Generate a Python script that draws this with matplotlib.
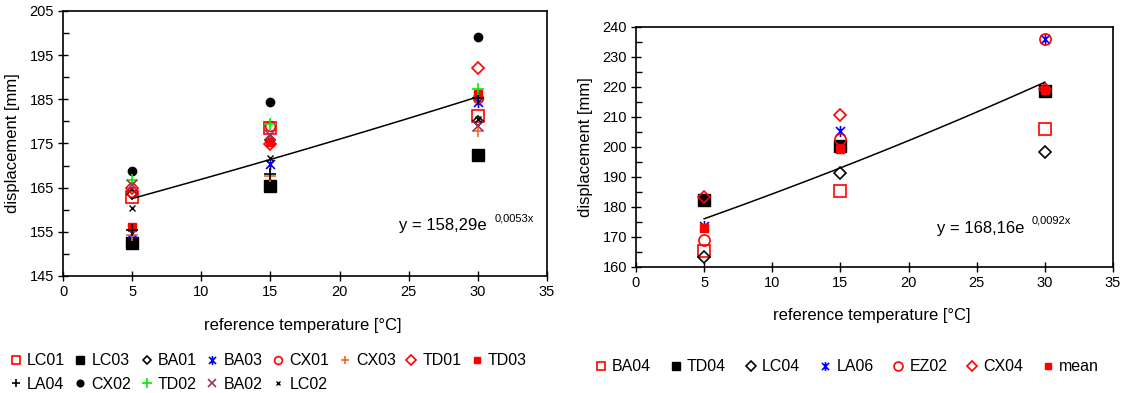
import numpy as np
import matplotlib
matplotlib.use('Agg')
from matplotlib import pyplot as plt
from matplotlib.path import Path
from matplotlib.ticker import MultipleLocator

plt.rcParams['font.family'] = ['Liberation Sans', 'DejaVu Sans']

# reference temperatures [°C]
temps = [5, 15, 30]

# left chart series, displacement [mm]
LC01 = [162.8, 178.5, 181.3]
LC03 = [152.4, 165.4, 172.4]
BA01 = [163.5, 175.9, 180.1]
BA03 = [154.7, 170.3, 184.3]
CX01 = [164.1, 178.9, 185.4]
CX03 = [154.2, 167.6, 177.9]
TD01 = [165.0, 174.9, 192.1]
TD03 = [156.0, 175.4, 186.2]
LA04 = [155.5, 168.2, 185.2]
CX02 = [168.7, 184.4, 199.1]
TD02 = [166.7, 179.4, 187.4]
BA02 = [165.5, 177.0, 179.0]
LC02 = [160.5, 171.8, 180.5]

# right chart series
BA04 = [165.5, 185.2, 206.0]
TD04 = [182.4, 200.2, 218.6]
LC04 = [163.3, 191.5, 198.3]
LA06 = [173.7, 205.2, 236.1]
EZ02 = [169.1, 202.8, 236.0]
CX04 = [183.5, 210.7, 219.3]
mean = [173.1, 199.3, 219.0]

# exponential trend lines y = a*e^(b*x), from the equations on the chart
trend_left = (158.29, 0.0053)
trend_right = (168.16, 0.0092)

# excel style asterisk: vertical bar plus an X
star = Path([(0, -1), (0, 1), (-0.8, -0.8), (0.8, 0.8), (-0.8, 0.8), (0.8, -0.8)],
            [Path.MOVETO, Path.LINETO, Path.MOVETO, Path.LINETO, Path.MOVETO, Path.LINETO])

RED = '#ff0000'
ORANGE = '#f26b1d'
PURPLE = '#993366'
GREEN = '#00ee00'

open_sq = dict(marker='s', ms=8, mfc='none', mec=RED, mew=1.2)
styles_left = [
    ('LC01', LC01, open_sq),
    ('LC03', LC03, dict(marker='s', ms=8, color='black')),
    ('BA01', BA01, dict(marker='D', ms=5.5, mfc='none', mec='black', mew=1.2)),
    ('BA03', BA03, dict(marker=star, ms=8, color='blue', mew=1.2)),
    ('CX01', CX01, dict(marker='o', ms=7, mfc='none', mec=RED, mew=1.2)),
    ('CX03', CX03, dict(marker='+', ms=8, color=ORANGE, mew=1.2)),
    ('TD01', TD01, dict(marker='D', ms=6.5, mfc='none', mec=RED, mew=1.2)),
    ('TD03', TD03, dict(marker='s', ms=6, color=RED)),
    ('LA04', LA04, dict(marker='+', ms=8, color='black', mew=1.2)),
    ('CX02', CX02, dict(marker='o', ms=6, color='black')),
    ('TD02', TD02, dict(marker='+', ms=9, color=GREEN, mew=1.2)),
    ('BA02', BA02, dict(marker='x', ms=7, color=PURPLE, mew=1.2)),
    ('LC02', LC02, dict(marker='x', ms=4, color='black', mew=1.0)),
]

styles_right = [
    ('BA04', BA04, open_sq),
    ('TD04', TD04, dict(marker='s', ms=8, color='black')),
    ('LC04', LC04, dict(marker='D', ms=6, mfc='none', mec='black', mew=1.2)),
    ('LA06', LA06, dict(marker=star, ms=8, color='blue', mew=1.2)),
    ('EZ02', EZ02, dict(marker='o', ms=8, mfc='none', mec=RED, mew=1.2)),
    ('CX04', CX04, dict(marker='D', ms=6.5, mfc='none', mec=RED, mew=1.2)),
    ('mean', mean, dict(marker='s', ms=6, color=RED)),
]

fig = plt.figure(figsize=(11.33, 3.93), dpi=100)
ax1 = fig.add_axes([63 / 1133, 1 - 276 / 393, 484 / 1133, 265 / 393])
ax2 = fig.add_axes([636 / 1133, 1 - 267 / 393, 477 / 1133, 240 / 393])


def draw(ax, styles, trend, ylim, eq_pos, eq_text, eq_sup):
    handles = []
    for name, vals, st in styles:
        h, = ax.plot(temps, vals, linestyle='none', label=name, **st)
        handles.append(h)
    a, b = trend
    xs = np.linspace(5, 30, 60)
    ax.plot(xs, a * np.exp(b * xs), color='black', lw=1.1)
    ax.set_xlim(0, 35)
    ax.set_ylim(*ylim)
    ax.xaxis.set_major_locator(MultipleLocator(5))
    ax.set_yticks(np.arange(ylim[0], ylim[1] + 1, 10))
    ax.set_yticks(np.arange(ylim[0] + 5, ylim[1], 10), minor=True)
    ax.tick_params(axis='both', which='major', direction='inout', length=7,
                   width=1, labelsize=10.5, pad=3)
    ax.tick_params(axis='y', which='minor', direction='in', length=4, width=1)
    for sp in ax.spines.values():
        sp.set_linewidth(1.2)
    ax.set_ylabel('displacement [mm]', fontsize=12)
    ax.set_xlabel('reference temperature [°C]', fontsize=12)
    ax.text(eq_pos[0], eq_pos[1], eq_text, transform=ax.transAxes, fontsize=12,
            ha='left', va='center')
    ax.text(eq_pos[0] + 0.198, eq_pos[1] + 0.03, eq_sup, transform=ax.transAxes,
            fontsize=8, ha='left', va='center')
    return handles


h1 = draw(ax1, styles_left, trend_left, (145, 205),
          ((399 - 63) / 484, (276 - 226) / 265), 'y = 158,29e', '0,0053x')
h2 = draw(ax2, styles_right, trend_right, (160, 240),
          ((937 - 636) / 477, (267 - 228) / 240), 'y = 168,16e', '0,0092x')

ax1.yaxis.set_label_coords(-0.088, 0.5)
ax1.xaxis.set_label_coords(0.495, -0.16)
ax2.yaxis.set_label_coords(-0.09, 0.5)
ax2.xaxis.set_label_coords(0.495, -0.17)

# legend fills column by column, so interleave to get the two rows right
order = [0, 8, 1, 9, 2, 10, 3, 11, 4, 12, 5, 6, 7]
fig.legend(handles=[h1[i] for i in order], loc='upper left',
           bbox_to_anchor=(0.006, 1 - 350 / 393),
           ncol=8, frameon=False, fontsize=11.5, handlelength=0.7,
           handletextpad=0.35, columnspacing=0.62, labelspacing=0.55,
           markerscale=0.8, borderaxespad=0, borderpad=0.2)
fig.legend(handles=h2, loc='upper left', bbox_to_anchor=(592 / 1133, 1 - 356 / 393),
           ncol=7, frameon=False, fontsize=11.5, handlelength=0.7,
           handletextpad=0.35, columnspacing=1.2, markerscale=0.8,
           borderaxespad=0, borderpad=0.2)

fig.savefig('out.png', dpi=100)
